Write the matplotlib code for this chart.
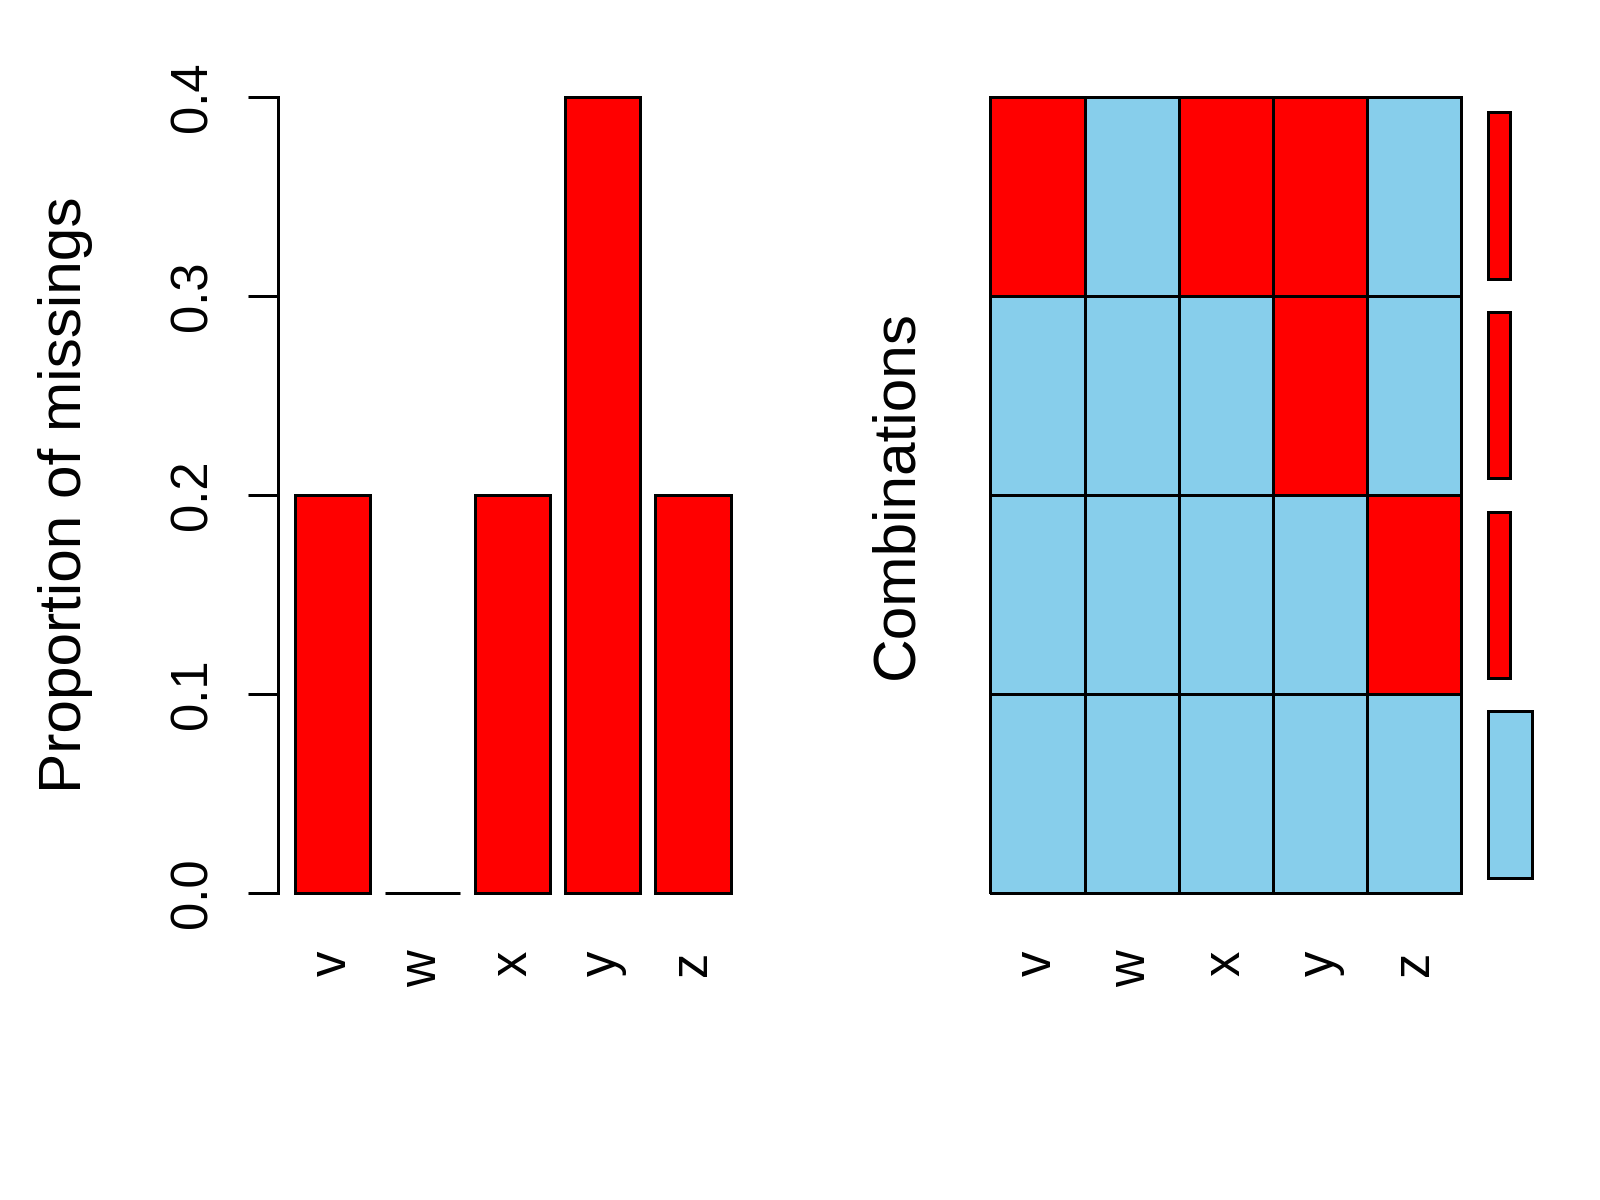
import numpy as np
import matplotlib
matplotlib.use('Agg')
import matplotlib.pyplot as plt
from matplotlib.colors import ListedColormap

# data: proportion of missing values per variable, and missingness patterns
variables = ['v', 'w', 'x', 'y', 'z']
prop_missing = [0.2, 0.0, 0.2, 0.4, 0.2]
# combinations from top to bottom (1 = missing)
combos = [[1, 0, 1, 1, 0],
          [0, 0, 0, 1, 0],
          [0, 0, 0, 0, 1],
          [0, 0, 0, 0, 0]]
combo_count = [1, 1, 1, 2]
yticks = [0.0, 0.1, 0.2, 0.3, 0.4]

W, H = 1600, 1200
LW = 2.16
plt.rcParams['font.family'] = ['Liberation Sans', 'DejaVu Sans']


def box(x0, y0, x1, y1):
    # pixel box (top-left origin) to figure fraction
    return [x0 / W, 1 - y1 / H, (x1 - x0) / W, (y1 - y0) / H]


fig = plt.figure(figsize=(16, 12), dpi=100)

# left: barplot of missing proportions
ax1 = fig.add_axes(box(294.5, 96.5, 730.5, 892.5))
xpos = 0.7 + 1.2 * np.arange(len(variables))
ax1.bar(xpos, prop_missing, width=1.0, color='red', edgecolor='black',
        linewidth=LW, clip_on=False)
ax1.set_xlim(0.2, 6.0)
ax1.set_ylim(0, 0.4)
for s in ['top', 'right', 'bottom']:
    ax1.spines[s].set_visible(False)
ax1.spines['left'].set_position(('outward', 12.2))
ax1.spines['left'].set_linewidth(LW)
ax1.spines['left'].set_bounds(0, 0.4)
ax1.set_yticks(yticks)
ax1.set_yticklabels(['%.1f' % t for t in yticks])
ax1.tick_params(axis='y', length=21.6, width=LW, pad=21.8, labelsize=36.5,
                labelrotation=90)
plt.setp(ax1.get_yticklabels(), va='center')
ax1.set_xticks(xpos)
ax1.set_xticklabels(variables)
ax1.tick_params(axis='x', length=0, pad=41.8, labelsize=36.5, labelrotation=90)
plt.setp(ax1.get_xticklabels(), va='top', ha='center')
fig.text(65.5 / W, 1 - 495 / H, 'Proportion of missings', rotation=90,
         ha='center', va='center', fontsize=43.5)

# middle: combination grid
ax2 = fig.add_axes(box(990.5, 96.5, 1461.5, 892.5))
grid = np.array(combos[::-1])
ax2.pcolormesh(grid, cmap=ListedColormap(['#87CEEB', '#FF0000']),
               vmin=0, vmax=1, edgecolors='black', linewidth=LW, clip_on=False)
ax2.set_xlim(0, len(variables))
ax2.set_ylim(0, len(combos))
for s in ax2.spines.values():
    s.set_visible(False)
ax2.set_yticks([])
ax2.set_xticks(np.arange(len(variables)) + 0.5)
ax2.set_xticklabels(variables)
ax2.tick_params(axis='x', length=0, pad=41.8, labelsize=36.5, labelrotation=90)
plt.setp(ax2.get_xticklabels(), va='top', ha='center')
fig.text(897 / W, 1 - 495 / H, 'Combinations', rotation=90,
         ha='center', va='center', fontsize=43.5)

# right: frequency of combinations
ax3 = fig.add_axes(box(1488, 112.5, 1532, 877.5))
ypos = 0.7 + 1.2 * np.arange(len(combos))
cols = ['red' if sum(c) > 0 else '#87CEEB' for c in combos[::-1]]
ax3.barh(ypos, combo_count[::-1], height=1.0, color=cols, edgecolor='black',
         linewidth=LW, clip_on=False)
ax3.set_xlim(0, 2)
ax3.set_ylim(0.2, 4.8)
ax3.axis('off')

fig.savefig('out.png', dpi=100)
